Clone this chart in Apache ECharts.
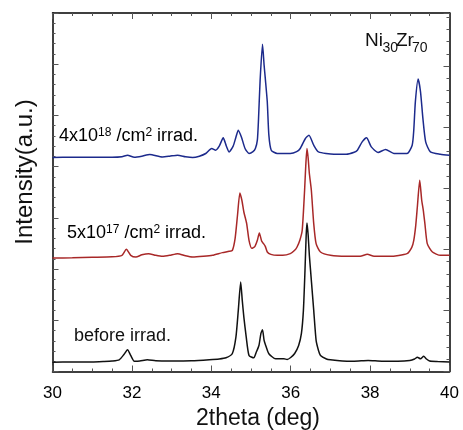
<!DOCTYPE html>
<html>
<head>
<meta charset="utf-8">
<script src="https://cdn.jsdelivr.net/npm/echarts@6/dist/echarts.min.js"></script>
<style>html,body{margin:0;padding:0;background:#fff;}#c{width:463px;height:430px;}</style>
</head>
<body>
<div id="c"></div>
<script>
// 2theta tick labels
const xTicks = [30, 32, 34, 36, 38, 40];

// Before irradiation (black) : [2theta, intensity (a.u., offset incl.)]
const beforeIrrad = [
 [30.0,9.2],[30.5,9.5],[31.0,9.5],[31.3,10],[31.5,10.5],[31.68,11.7],[31.8,17],[31.89,21.7],[31.97,16],[32.06,10.3],
 [32.2,10.5],[32.39,11.7],[32.6,10.7],[33.0,10.5],[33.5,10.7],[33.95,11.7],[34.2,12.5],[34.37,13.7],[34.53,18],
 [34.62,34.3],[34.68,61],[34.74,89.3],[34.78,71],[34.82,54.3],[34.88,34.3],[34.95,16],[35.07,13.7],[35.13,19],
 [35.2,26],[35.25,38],[35.29,41.7],[35.33,31],[35.37,26],[35.45,17.7],[35.62,12.7],[35.83,12.7],[35.91,12],
 [36.0,14],[36.1,18],[36.2,26],[36.27,38],[36.32,61],[36.36,101],[36.39,136],[36.41,148.3],[36.44,136],[36.47,116],
 [36.5,101],[36.55,76],[36.58,61],[36.64,31],[36.7,21],[36.75,16],[36.9,12.5],[37.0,11.7],[37.3,10.5],[37.6,10.3],
 [37.95,11],[38.3,10.3],[38.7,10.3],[39.0,11],[39.12,12.5],[39.19,14.3],[39.27,12.7],[39.35,15.3],[39.42,12.5],
 [39.5,10.5],[39.7,10],[40.0,9.5]
];

// 5x10^17 /cm^2 irradiated (red)
const irrad5e17 = [
 [30.0,113.3],[30.5,113.5],[31.0,114],[31.5,114.5],[31.75,116],[31.86,122],[31.97,116],[32.1,114.3],[32.25,116.5],
 [32.42,117.7],[32.6,116],[32.77,115],[32.95,116],[33.15,117.7],[33.35,115.5],[33.53,114.3],[33.8,115],[34.03,116],
 [34.28,118.7],[34.45,120],[34.53,121],[34.6,133],[34.66,156],[34.72,178.3],[34.77,171],[34.82,159.3],[34.89,148],
 [34.95,131],[35.02,123],[35.1,125],[35.16,131],[35.21,138.3],[35.27,130],[35.31,128],[35.36,125],[35.41,119.3],
 [35.5,117],[35.66,116],[35.8,116],[35.99,117.7],[36.1,121],[36.16,124.3],[36.23,131],[36.29,141],[36.35,181],
 [36.38,206],[36.41,222.7],[36.44,213],[36.47,197.7],[36.52,181],[36.58,147.7],[36.64,127.7],[36.75,119.3],
 [37.0,116],[37.4,115],[37.75,115],[37.93,117],[38.1,115],[38.5,115],[38.93,117.7],[39.05,124],[39.1,131],
 [39.15,146],[39.19,164.3],[39.25,191],[39.3,171],[39.34,161],[39.38,147.7],[39.44,127.7],[39.57,119.3],
 [39.77,116],[40.0,116]
];

// 4x10^18 /cm^2 irradiated (blue)
const irrad4e18 = [
 [30.0,213.7],[30.5,214],[31.0,214],[31.5,214],[31.75,214.5],[31.89,216],[32.06,214],[32.25,215],[32.45,216.7],
 [32.77,214.3],[32.95,215],[33.15,216],[33.35,214.5],[33.53,213.7],[33.7,215],[33.86,217.7],[34.01,222.7],
 [34.11,221],[34.2,225],[34.3,233.3],[34.38,225],[34.45,219.3],[34.55,225],[34.62,234],[34.68,241],[34.76,234],
 [34.85,222.7],[34.95,217.7],[35.05,219.5],[35.11,222.7],[35.16,231],[35.19,252.7],[35.23,291],[35.29,326.7],
 [35.33,306],[35.36,292.7],[35.41,269.3],[35.45,236],[35.51,221],[35.66,217.7],[35.99,217.7],[36.15,219.5],
 [36.24,222.7],[36.37,232.7],[36.46,236],[36.58,226],[36.7,219.3],[37.09,217],[37.4,217],[37.6,219],[37.68,221],
 [37.8,229.3],[37.91,233.3],[38.03,224.3],[38.2,218.7],[38.39,221.7],[38.6,217.7],[38.93,217.7],[39.06,226],
 [39.1,241],[39.14,269.3],[39.21,292],[39.27,279.3],[39.33,252.7],[39.4,229.3],[39.52,219.3],[39.77,217],[40.0,216]
];

const FONT = '"Liberation Sans", Arial, Helvetica, sans-serif';
const chart = echarts.init(document.getElementById('c'), null, {renderer: 'canvas'});

const tickStyle = {color: '#555', width: 1};
function xAx(pos, showLabel) {
  return {
    type: 'value', position: pos, min: xTicks[0], max: xTicks[xTicks.length - 1], interval: xTicks[1] - xTicks[0],
    axisLine: {show: true, onZero: false, lineStyle: {color: '#000', width: 1.5}},
    axisTick: {show: true, inside: true, length: 6, lineStyle: tickStyle},
    minorTick: {show: true, splitNumber: 4, length: 3, lineStyle: tickStyle},
    axisLabel: {show: showLabel, fontSize: 17, color: '#000', margin: 13, fontFamily: FONT},
    splitLine: {show: false}, minorSplitLine: {show: false}
  };
}
function yAx(pos, interval) {
  return {
    type: 'value', position: pos, min: 0, max: 358, interval: interval,
    axisLine: {show: true, onZero: false, lineStyle: {color: '#000', width: 1.5}},
    axisTick: {show: true, inside: true, length: 6, lineStyle: tickStyle},
    minorTick: {show: true, splitNumber: 5, length: 3, lineStyle: tickStyle},
    axisLabel: {show: false},
    splitLine: {show: false}, minorSplitLine: {show: false}
  };
}

const main = {fontSize: 18, lineHeight: 18, verticalAlign: 'bottom', fontFamily: FONT, color: '#111'};
const sup = {fontSize: 12, lineHeight: 12, verticalAlign: 'top', fontFamily: FONT, color: '#111'};
function txt(x, y, s, size) {
  return {type: 'text', x: x, y: y, style: {text: s, font: size + 'px ' + FONT, fill: '#111', textAlign: 'left', textVerticalAlign: 'top'}};
}

chart.setOption({
  animation: false,
  backgroundColor: '#fff',
  grid: {left: 52.5, right: 13.5, top: 13, bottom: 58.5, containLabel: false},
  xAxis: [xAx('bottom', true), xAx('top', false)],
  yAxis: [yAx('left', 358 / 7), yAx('right', 61)],
  series: [
    {name: 'before irrad.', type: 'line', data: beforeIrrad, xAxisIndex: 0, yAxisIndex: 0, showSymbol: false, smooth: 0.2,
     lineStyle: {color: '#111', width: 1.5}},
    {name: '5x10^17', type: 'line', data: irrad5e17, xAxisIndex: 0, yAxisIndex: 0, showSymbol: false, smooth: 0.2,
     lineStyle: {color: '#a82828', width: 1.5}},
    {name: '4x10^18', type: 'line', data: irrad4e18, xAxisIndex: 0, yAxisIndex: 0, showSymbol: false, smooth: 0.2,
     lineStyle: {color: '#1c2a8c', width: 1.5}}
  ],
  graphic: [
    {type: 'text', x: 258, y: 419, style: {text: '2theta (deg)', font: '23px ' + FONT, fill: '#111', textAlign: 'center', textVerticalAlign: 'middle'}},
    {type: 'text', x: 25, y: 172, rotation: Math.PI / 2, style: {text: 'Intensity(a.u.)', font: '24px ' + FONT, fill: '#111', textAlign: 'center', textVerticalAlign: 'middle'}},
    txt(365, 31, 'Ni', 19),
    txt(382.5, 41, '30', 14),
    txt(396, 31, 'Zr', 19),
    txt(412, 41, '70', 14),
    {type: 'text', x: 59, y: 127, style: {text: '{m|4x10}{s|18}{m| /cm}{s|2}{m| irrad.}', textAlign: 'left', textVerticalAlign: 'top', rich: {m: main, s: sup}}},
    {type: 'text', x: 67, y: 224, style: {text: '{m|5x10}{s|17}{m| /cm}{s|2}{m| irrad.}', textAlign: 'left', textVerticalAlign: 'top', rich: {m: main, s: sup}}},
    txt(74, 327.5, 'before irrad.', 18)
  ]
});
</script>
</body>
</html>
